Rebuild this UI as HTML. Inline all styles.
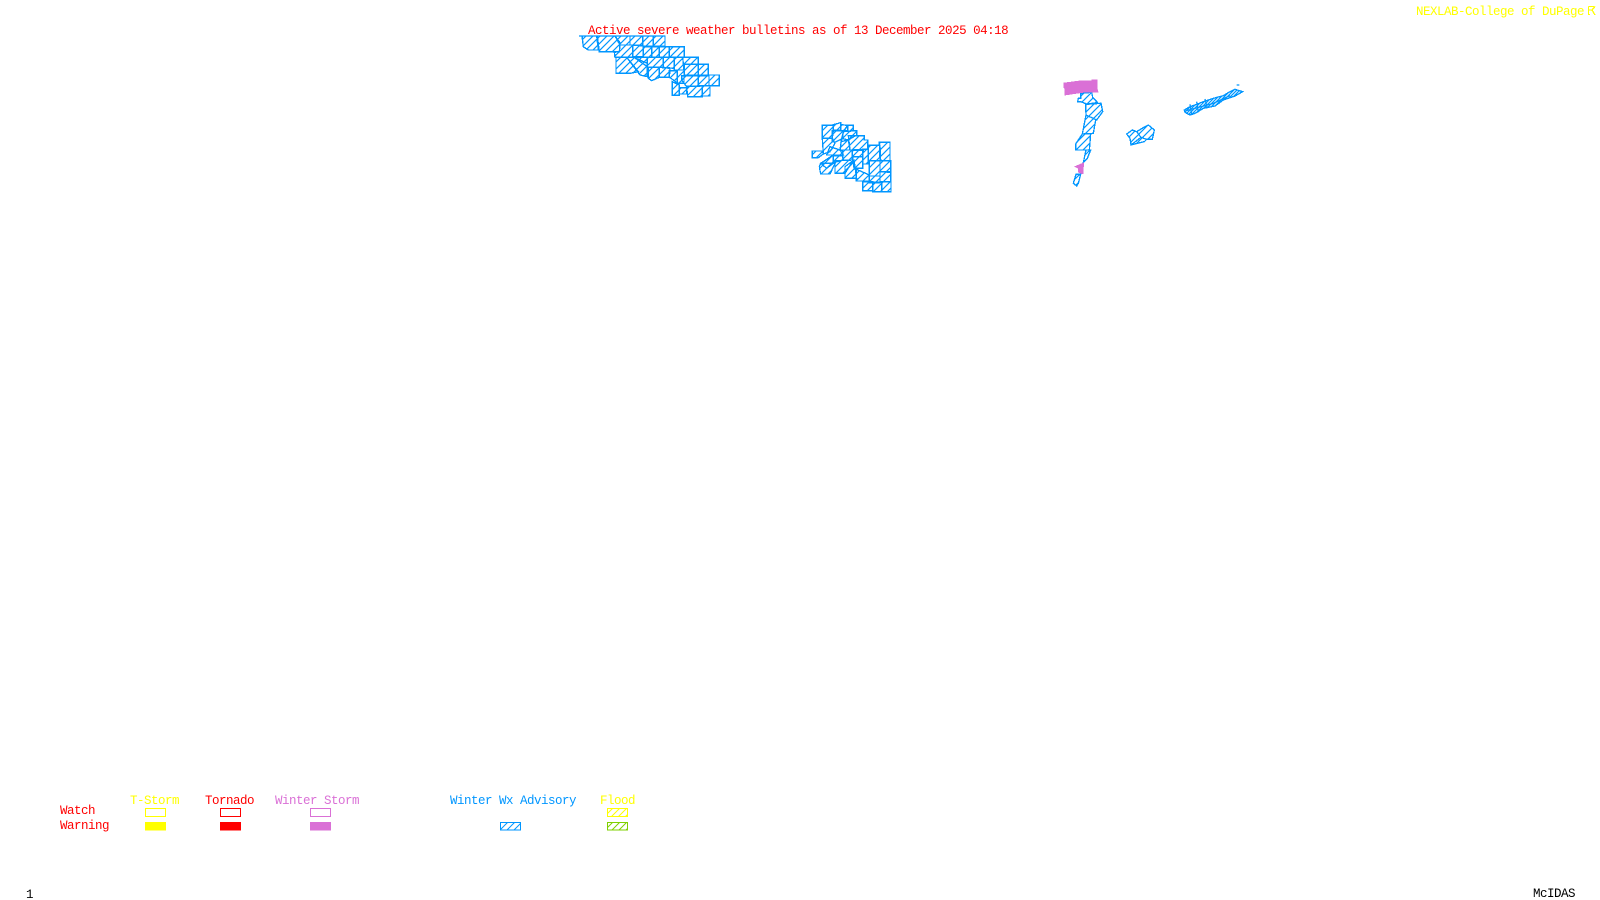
<!DOCTYPE html>
<html><head><meta charset="utf-8"><title>Active severe weather bulletins</title>
<style>
html,body{margin:0;padding:0;background:#fff;width:1600px;height:900px;overflow:hidden}
svg{display:block}
text{font-family:"Liberation Mono",monospace;font-size:12.5px;letter-spacing:-.5px}
.b polygon{fill:url(#hz);stroke:#0096ff;stroke-width:4;stroke-linejoin:miter;shape-rendering:crispEdges}
.r{fill:#ff0000}.y{fill:#ffff00}.m{fill:#da70d6}.c{fill:#0096ff}.k{fill:#000}
</style></head><body>
<svg width="1600" height="900" viewBox="0 0 1600 900" xmlns="http://www.w3.org/2000/svg">
<defs>
<pattern id="hz" width="21" height="21" patternUnits="userSpaceOnUse"><path d="M-3 3L3 -3M0 21L21 0M18 24L24 18" stroke="#0096ff" stroke-width="3.500" fill="none"/></pattern>
<pattern id="hd" width="9" height="9" patternUnits="userSpaceOnUse"><path d="M-3 3L3 -3M0 9L9 0M6 12L12 6" stroke="#0096ff" stroke-width="3.500" fill="none"/></pattern>
<pattern id="pb" width="7" height="7" patternUnits="userSpaceOnUse"><path d="M-1 1L1 -1M0 7L7 0M6 8L8 6" stroke="#0096ff" stroke-width="1" fill="none"/></pattern>
<pattern id="py" width="7" height="7" patternUnits="userSpaceOnUse"><path d="M-1 1L1 -1M0 7L7 0M6 8L8 6" stroke="#ffff00" stroke-width="1" fill="none"/></pattern>
<pattern id="pg" width="7" height="7" patternUnits="userSpaceOnUse"><path d="M-1 1L1 -1M0 7L7 0M6 8L8 6" stroke="#7fd000" stroke-width="1" fill="none"/></pattern>
</defs>

<text class="r" x="588" y="34">Active severe weather bulletins as of 13 December 2025 04:18</text>
<text class="y" x="1416" y="15">NEXLAB-College of DuPage</text>
<path d="M1588.500 6.500H1594.500M1588.500 6.500V14.500H1590M1589 10H1592L1595 6.500M1592 10L1595 15" stroke="#ffff00" stroke-width="1.300" fill="none" shape-rendering="crispEdges"/>

<!-- group 1 -->
<g class="b" transform="translate(560,20) scale(.33333)">
<path d="M57 48H315" stroke="#0096ff" stroke-width="4"/>
<polygon points="66,48 110,48 115,90 85,90 70,80"/>
<polygon points="112,48 165,48 180,68 178,95 118,95"/>
<polygon points="165,48 210,48 210,75 180,75"/>
<polygon points="210,48 248,48 248,75 210,75"/>
<polygon points="248,48 280,48 280,78 248,78"/>
<polygon points="280,48 315,48 315,78 280,78"/>
<polygon points="180,75 218,75 218,112 165,112 163,97 178,95"/>
<polygon points="218,75 250,78 250,110 218,110"/>
<polygon points="250,80 275,80 275,112 250,112"/>
<polygon points="275,80 298,80 298,112 275,112"/>
<polygon points="298,80 328,80 328,112 298,112"/>
<polygon points="328,80 373,80 373,112 328,112"/>
<polygon points="168,112 200,112 235,155 210,160 168,160"/>
<polygon points="200,112 222,112 262,130 262,170 240,165"/>
<polygon points="222,112 262,112 262,140"/>
<polygon points="262,112 310,112 310,142 262,142"/>
<polygon points="310,112 343,112 343,145 310,142"/>
<polygon points="343,112 368,112 372,150 343,150"/>
<polygon points="368,112 415,112 415,133 370,133"/>
<polygon points="265,142 298,142 298,172 275,182 265,175"/>
<polygon points="298,142 330,145 328,172 298,172"/>
<polygon points="328,152 352,152 352,190 340,180 328,172"/>
<polygon points="352,150 372,150 372,190 352,190"/>
<polygon points="373,133 415,133 415,165 373,165"/>
<polygon points="415,133 445,133 445,165 415,165"/>
<polygon points="365,167 415,167 415,198 378,198 365,180"/>
<polygon points="415,167 447,167 447,197 415,197"/>
<polygon points="447,165 478,165 478,197 447,197"/>
<polygon points="337,185 358,195 358,226 337,226"/>
<polygon points="358,203 380,203 380,222 358,222"/>
<polygon points="380,200 427,198 427,230 383,230"/>
<polygon points="427,197 450,197 450,228 427,228"/>
</g>

<!-- group 2 -->
<g class="b" transform="translate(780,110) scale(.33333)">
<polygon points="127,46 160,46 160,60 157,85 127,85"/>
<polygon points="160,44 182,38 182,60 160,60"/>
<polygon points="182,44 203,46 203,62 182,62"/>
<polygon points="203,46 220,46 220,62 190,65"/>
<polygon points="157,62 190,62 188,85 165,97 157,95"/>
<polygon points="190,65 230,62 230,75 205,90 183,95"/>
<polygon points="205,77 253,77 253,90 263,90 263,118 210,120"/>
<polygon points="127,85 157,85 165,100 150,125 130,132"/>
<polygon points="97,123 127,123 130,132 115,143 97,143"/>
<polygon points="185,85 205,90 210,120 180,120"/>
<polygon points="150,110 180,120 190,135 140,135"/>
<polygon points="187,120 217,120 217,150 190,150"/>
<polygon points="217,122 250,120 248,140 217,140"/>
<polygon points="218,140 248,140 248,175 222,175"/>
<polygon points="248,118 265,118 265,162 248,162"/>
<polygon points="265,106 300,106 302,152 265,152"/>
<polygon points="298,97 330,97 330,152 300,152"/>
<polygon points="122,160 160,135 160,160 140,175"/>
<polygon points="160,137 187,137 190,150 160,158"/>
<polygon points="122,160 165,160 150,192 122,192 118,170"/>
<polygon points="165,152 220,150 195,190 165,190"/>
<polygon points="195,170 222,150 230,205 195,205"/>
<polygon points="230,178 268,195 268,213 228,213"/>
<polygon points="268,152 300,152 300,198 268,198"/>
<polygon points="300,152 332,152 332,185 300,185"/>
<polygon points="300,185 332,187 332,215 300,215"/>
<polygon points="268,198 300,198 300,218 268,218"/>
<polygon points="248,215 278,215 278,242 248,242"/>
<polygon points="278,217 305,217 305,245 278,245"/>
<polygon points="305,215 333,215 333,245 305,245"/>
</g>

<!-- group 3 -->
<g class="b" transform="translate(1030,70) scale(.33333)">
<polygon points="152,70 185,67 188,82 203,98 170,102 152,95 143,95 145,85 152,85"/>
<polygon points="167,103 213,100 218,125 200,150 168,135"/>
<polygon points="168,135 200,150 197,150 190,190 157,192"/>
<polygon points="157,192 182,192 178,240 137,240 137,222"/>
<polygon points="168,240 182,240 172,265 160,278"/>
<polygon points="138,313 152,312 145,340 140,348 130,340"/>
<polygon style="fill:#da70d6;stroke:#da70d6" points="102,40 125,37 155,33 187,33 187,30 200,30 200,53 203,65 160,66 106,74 105,55 102,52"/>
<polygon style="fill:#da70d6;stroke:#da70d6" points="137,290 160,280 158,310 147,307 145,293"/>
</g>

<!-- small cluster -->
<g class="b" transform="translate(1125,120) scale(.33333)">
<polygon points="5,42 22,30 35,35 48,52 18,75 15,55"/>
<polygon points="35,35 60,20 70,15 88,30 82,58 65,58 48,52"/>
<polygon points="18,75 48,52 65,58 58,65"/>
</g>

<!-- long island shape -->
<g class="b" transform="translate(1150,75) scale(.33333)">
<polygon style="fill:url(#hd)" points="103,105 120,95 140,88 160,80 190,70 220,62 240,50 255,43 278,50 255,63 220,75 195,93 160,100 135,115 120,120 105,112"/>
<path d="M120 88L125 120M140 80L145 112M165 72L172 100M105 108L190 85L240 62M260 30H268" stroke="#0096ff" stroke-width="4" fill="none"/>
</g>

<!-- legend -->
<text class="y" x="130" y="804">T-Storm</text>
<text class="r" x="205" y="804">Tornado</text>
<text class="m" x="275" y="804">Winter Storm</text>
<text class="c" x="450" y="804">Winter Wx Advisory</text>
<text class="y" x="600" y="804">Flood</text>
<text class="r" x="60" y="814">Watch</text>
<text class="r" x="60" y="829">Warning</text>

<g shape-rendering="crispEdges">
<rect x="145.5" y="808.5" width="20" height="8" fill="none" stroke="#ffff00"/>
<rect x="145" y="822" width="21" height="8.500" fill="#ffff00"/>
<rect x="220.500" y="808.500" width="20" height="8" fill="none" stroke="#ff0000"/>
<rect x="220" y="822" width="21" height="8.500" fill="#ff0000"/>
<rect x="310.500" y="808.500" width="20" height="8" fill="none" stroke="#da70d6"/>
<rect x="310" y="822" width="21" height="8.500" fill="#da70d6"/>
<rect x="500.500" y="822.500" width="20" height="7.500" fill="url(#pb)" stroke="#0096ff"/>
<rect x="607.500" y="808.500" width="20" height="8" fill="url(#py)" stroke="#ffff00"/>
<rect x="607.500" y="822.500" width="20" height="7.500" fill="url(#pg)" stroke="#7fd000"/>
</g>

<text class="k" x="1533" y="897">McIDAS</text>
<text class="k" x="26" y="898">1</text>
</svg>
</body></html>
